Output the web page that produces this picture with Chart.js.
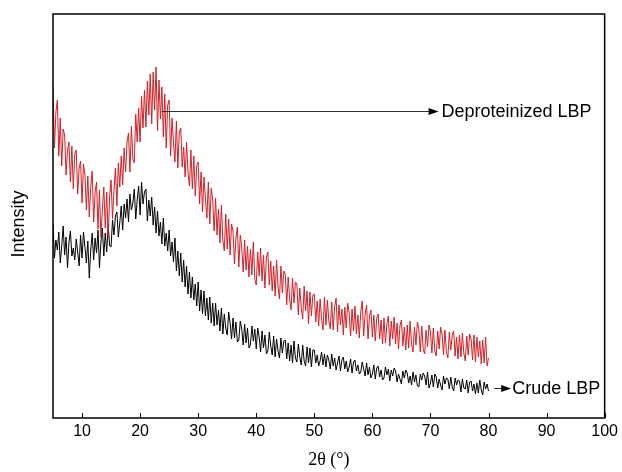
<!DOCTYPE html>
<html>
<head>
<meta charset="utf-8">
<script src="https://cdn.jsdelivr.net/npm/chart.js@4/dist/chart.umd.min.js"></script>
<style>
  html, body { margin: 0; padding: 0; background: #fff; }
  #wrap { width: 622px; height: 472px; position: relative; }
</style>
</head>
<body>
<div id="wrap"><canvas id="xrd"></canvas></div>
<script>
// XRD patterns of LBP (arbitrary intensity units)
const angleStart = 5;
const angleStep = 0.25;

const deproteinizedLBP = [
  332, 270, 306, 318,  262, 300, 252, 289,  283, 243, 268, 276,  236, 272, 229, 264,
  268, 224, 250, 257,  215, 254, 243, 208,  242, 201, 231, 247,  196, 226, 236, 189,
  228, 181, 208, 231,  190, 226, 180, 221,  238, 199, 227, 250,  212, 255, 231, 262,
  233, 270, 246, 276,  285, 246, 292, 259,  255, 304, 276, 310,  276, 322, 290, 328,
  291, 337, 303, 344,  294, 346, 308, 351,  287, 338, 299, 331,  281, 324, 270, 313,
  318, 262, 300, 275,  256, 297, 250, 286,  290, 251, 271, 241,  276, 245, 232, 268,
  229, 262, 222, 252,  256, 214, 246, 206,  241, 220, 200, 236,  194, 230, 218, 187,
  220, 183, 209, 175,  213, 178, 167, 204,  169, 199, 163, 194,  187, 154, 180, 191,
  151, 183, 171, 146,  178, 148, 172, 141,  169, 143, 176, 139,  133, 166, 142, 170,
  137, 163, 130, 160,  166, 133, 157, 127,  152, 122, 158, 131,  119, 152, 125, 147,
  144, 113, 141, 120,  108, 140, 115, 136,  134, 103, 130, 111,  99, 132, 107, 127,
  94, 126, 102, 123,   124, 96, 117, 92,    119, 99, 88, 121,    93, 118, 97, 89,
  116, 88, 111, 120,   86, 113, 93, 109,    83, 111, 90, 115,    105, 82, 109, 87,
  112, 84, 103, 80,    106, 117, 82, 104,   113, 79, 102, 108,   81, 103, 77, 100,
  104, 79, 98, 74,     100, 75, 94, 102,    72, 97, 79, 101,     74, 95, 69, 92,
  98, 72, 91, 68,      93, 70, 97, 74,      66, 91, 73, 96,      89, 66, 92, 69,
  64, 88, 71, 93,      86, 65, 90, 67,      62, 87, 69, 91,      84, 63, 88, 66,
  60, 86, 68, 83,      87, 62, 81, 59,      83, 61, 85, 65,      57, 82, 63, 84,
  79, 58, 83, 56,      81, 61, 77, 54,      78, 55, 81, 52,
  60
];

const crudeLBP = [
  195, 160, 178, 168,  186, 155, 172, 192,  163, 181, 150, 176,  187, 162, 170, 158,
  179, 166, 152, 183,  160, 186, 171, 155,  177, 140, 168, 185,  158, 180, 165, 188,
  150, 176, 190, 162,  185, 166, 194, 172,  171, 198, 183, 202,  206, 181, 195, 212,
  188, 214, 200, 219,  196, 224, 208, 215,  229, 199, 218, 232,  203, 236, 214, 226,
  229, 197, 218, 202,  221, 193, 211, 185,  207, 182, 196, 174,  200, 172, 185, 167,
  188, 162, 176, 156,  180, 147, 167, 142,  165, 136, 158, 131,  152, 124, 146, 120,
  141, 118, 134, 112,  136, 107, 128, 104,  127, 102, 120, 98,   121, 95, 115, 92,
  115, 93, 108, 87,    110, 84, 104, 90,    83, 106, 95, 79,     100, 80, 96, 76,
  78, 97, 89, 73,      94, 75, 90, 70,      73, 92, 77, 89,      69, 90, 81, 66,
  87, 70, 83, 64,      67, 86, 72, 63,      82, 61, 79, 67,      60, 80, 65, 77,
  78, 59, 75, 57,      73, 55, 77, 60,      56, 74, 61, 53,      73, 57, 52, 71,
  55, 70, 51, 68,      68, 55, 63, 52,      57, 66, 53, 64,      51, 63, 58, 49,
  64, 52, 60, 48,      55, 62, 47, 58,      61, 49, 57, 46,      51, 59, 45, 56,
  58, 47, 53, 44,      46, 56, 49, 42,      55, 43, 51, 40,      44, 53, 39, 50,
  52, 41, 48, 38,      40, 51, 43, 49,      37, 48, 42, 50,      47, 36, 44, 39,
  34, 47, 40, 48,      45, 35, 42, 33,      46, 36, 43, 32,      31, 44, 38, 45,
  42, 33, 46, 30,      35, 43, 31, 44,      41, 30, 39, 33,      28, 42, 34, 40,
  39, 29, 41, 31,      27, 40, 33, 38,      37, 26, 39, 30,      29, 38, 25, 36,
  37, 27, 34, 24,      35, 25, 38, 28,      23, 36, 29, 34,
  27
];

const xTickValues = [10, 20, 30, 40, 50, 60, 70, 80, 90, 100];
const seriesNames = ['Deproteinized LBP', 'Crude LBP'];
const yTitle = 'Intensity';

const sansFont = 'Arial, "Liberation Sans", sans-serif';

function toPoints(values) {
  return values.map((v, i) => ({ x: angleStart + i * angleStep, y: v }));
}

// arrow + label annotations, anchored in data units
const callouts = [
  { text: seriesNames[0], from: [23.7, 307], to: [71.4, 307], labelX: 71.9 },
  { text: seriesNames[1], from: [81.0, 30], to: [83.9, 30], labelX: 84.1 }
];

function drawArrow(ctx, x1, y1, x2, y2) {
  ctx.beginPath();
  ctx.moveTo(x1, y1);
  ctx.lineTo(x2 - 6, y2);
  ctx.stroke();
  ctx.beginPath();
  ctx.moveTo(x2, y2);
  ctx.lineTo(x2 - 10, y2 - 3.5);
  ctx.lineTo(x2 - 10, y2 + 3.5);
  ctx.closePath();
  ctx.fill();
}

const framePlugin = {
  id: 'frame',
  afterDraw(chart) {
    const { ctx, chartArea: a, scales: { x, y } } = chart;
    ctx.save();
    ctx.strokeStyle = '#000';
    ctx.lineWidth = 1.5;
    ctx.strokeRect(a.left, a.top, a.right - a.left, a.bottom - a.top);

    // inward tick marks on the bottom axis
    ctx.lineWidth = 1;
    xTickValues.forEach(v => {
      const px = Math.round(x.getPixelForValue(v)) + 0.5;
      ctx.beginPath();
      ctx.moveTo(px, a.bottom);
      ctx.lineTo(px, a.bottom - 5);
      ctx.stroke();
    });

    ctx.strokeStyle = '#333';
    ctx.fillStyle = '#000';
    ctx.font = '18px ' + sansFont;
    ctx.textBaseline = 'middle';
    ctx.textAlign = 'left';
    callouts.forEach(c => {
      const py = Math.round(y.getPixelForValue(c.from[1])) + 0.5;
      drawArrow(ctx, x.getPixelForValue(c.from[0]), py, x.getPixelForValue(c.to[0]), py);
      ctx.fillText(c.text, x.getPixelForValue(c.labelX), py + 1);
    });

    // y title sits a bit below the plot's middle in the original
    ctx.translate(19, (a.top + a.bottom) / 2 + 8);
    ctx.rotate(-Math.PI / 2);
    ctx.textAlign = 'center';
    ctx.fillText(yTitle, 0, 0);
    ctx.restore();
  }
};

new Chart(document.getElementById('xrd'), {
  type: 'line',
  data: {
    datasets: [
      {
        label: seriesNames[0],
        data: toPoints(deproteinizedLBP),
        borderColor: '#d41f26',
        borderWidth: 1,
        pointRadius: 0,
        tension: 0
      },
      {
        label: seriesNames[1],
        data: toPoints(crudeLBP),
        borderColor: '#000000',
        borderWidth: 1,
        pointRadius: 0,
        tension: 0
      }
    ]
  },
  options: {
    responsive: true,
    maintainAspectRatio: false,
    animation: false,
    events: [],
    layout: { padding: { top: 14, right: 15, left: 0, bottom: 0 } },
    plugins: { legend: { display: false }, tooltip: { enabled: false } },
    scales: {
      x: {
        type: 'linear',
        min: 5,
        max: 100,
        afterBuildTicks: scale => { scale.ticks = xTickValues.map(v => ({ value: v })); },
        afterFit: scale => { scale.height = 54; },
        grid: { display: false, drawTicks: false },
        border: { display: false },
        ticks: { color: '#000', font: { family: sansFont, size: 16 }, padding: 4, maxRotation: 0 },
        title: {
          display: true,
          text: '2θ (°)',
          color: '#000',
          font: { family: '"Liberation Serif", "Times New Roman", serif', size: 18 },
          padding: { top: 0, bottom: 1 }
        }
      },
      y: {
        min: 0,
        max: 404,
        afterFit: scale => { scale.width = 53; },
        grid: { display: false, drawTicks: false },
        border: { display: false },
        ticks: { display: false },
        title: { display: false }
      }
    }
  },
  plugins: [framePlugin]
});
</script>
</body>
</html>
